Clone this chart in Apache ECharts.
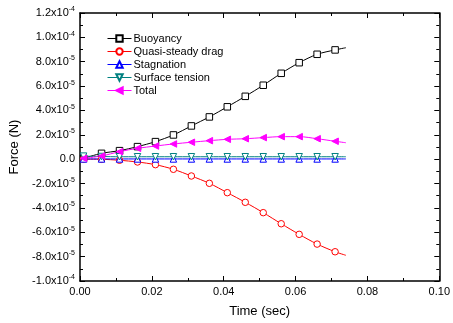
<!DOCTYPE html>
<html>
<head>
<meta charset="utf-8">
<script src="https://cdn.jsdelivr.net/npm/echarts@6/dist/echarts.min.js"></script>
<style>
  html, body { margin: 0; padding: 0; background: #fff; }
  #chart { width: 453px; height: 323px; }
</style>
</head>
<body>
<div id="chart"></div>
<script>
// time (sec); the last point only carries the curve end, no marker
const times = [0.001, 0.006, 0.011, 0.016, 0.021, 0.026, 0.031, 0.036, 0.041, 0.046, 0.051, 0.056, 0.061, 0.066, 0.071, 0.074];
// forces in units of 1e-5 N
const buoyancy = [0.07, 0.48, 0.70, 1.03, 1.44, 1.99, 2.73, 3.47, 4.30, 5.16, 6.07, 7.05, 7.92, 8.61, 8.97, 9.15];
const drag = [0.0, -0.01, -0.09, -0.23, -0.45, -0.83, -1.38, -1.98, -2.75, -3.54, -4.39, -5.30, -6.17, -6.97, -7.60, -7.89];
const stagnation = [0.02, 0.02, 0.02, 0.02, 0.02, 0.02, 0.02, 0.02, 0.02, 0.02, 0.02, 0.02, 0.02, 0.02, 0.02, 0.02];
const surfaceTension = [0.25, 0.22, 0.2, 0.2, 0.2, 0.2, 0.2, 0.2, 0.2, 0.2, 0.2, 0.2, 0.2, 0.2, 0.2, 0.2];
const total = [0.07, 0.26, 0.62, 0.89, 1.08, 1.25, 1.39, 1.52, 1.63, 1.68, 1.77, 1.85, 1.85, 1.68, 1.47, 1.35];

// y tick labels: value -> [mantissa, exponent]
const yTickLabels = {
  '-10': ['-1.0x10', '-4'], '-8': ['-8.0x10', '-5'], '-6': ['-6.0x10', '-5'],
  '-4': ['-4.0x10', '-5'], '-2': ['-2.0x10', '-5'], '0': ['0.0', ''],
  '2': ['2.0x10', '-5'], '4': ['4.0x10', '-5'], '6': ['6.0x10', '-5'],
  '8': ['8.0x10', '-5'], '10': ['1.0x10', '-4'], '12': ['1.2x10', '-4']
};
const xTickLabels = ['0.00', '0.02', '0.04', '0.06', '0.08', '0.10'];

const font = 'Liberation Sans, Arial, sans-serif';

function toData(vals) {
  return vals.map((v, i) => {
    if (i === vals.length - 1) return { value: [times[i], v], symbol: 'none' };
    return [times[i], v];
  });
}

function makeSeries(name, vals, color, symbol, rotate, filled) {
  return {
    name: name,
    type: 'line',
    data: toData(vals),
    smooth: 0.3,
    symbol: symbol,
    symbolSize: 6.5,
    symbolRotate: rotate,
    showAllSymbol: true,
    lineStyle: { color: color, width: 1 },
    itemStyle: { color: filled ? color : '#fff', borderColor: color, borderWidth: 1 },
    emphasis: { disabled: true }
  };
}

const tickStyle = { inside: true, length: 5, lineStyle: { color: '#000', width: 1 } };
const minorStyle = { show: true, splitNumber: 2, length: 3, lineStyle: { color: '#000', width: 1 } };

const chart = echarts.init(document.getElementById('chart'));
const option = {
  animation: false,
  grid: { left: 80, right: 11, top: 13, bottom: 42 },
  legend: {
    orient: 'vertical',
    left: 102,
    top: 28,
    itemWidth: 24,
    itemHeight: 8,
    itemGap: 2,
    lineStyle: { width: 1 },
    textStyle: { fontFamily: font, fontSize: 11, color: '#000', padding: [0, 0, 0, -3] },
    data: ['Buoyancy', 'Quasi-steady drag', 'Stagnation', 'Surface tension', 'Total']
  },
  xAxis: [
    {
      type: 'value', min: 0, max: 0.1, interval: 0.02,
      name: 'Time (sec)', nameLocation: 'middle', nameGap: 24,
      nameTextStyle: { fontFamily: font, fontSize: 13, color: '#000' },
      axisLine: { show: true, onZero: false, lineStyle: { color: '#000', width: 1.5 } },
      axisTick: tickStyle, minorTick: minorStyle,
      axisLabel: {
        fontFamily: font, fontSize: 11, color: '#000', margin: 5,
        formatter: (v) => xTickLabels[Math.round(v / 0.02)]
      },
      splitLine: { show: false }
    },
    {
      type: 'value', min: 0, max: 0.1, interval: 0.02, position: 'top',
      axisLine: { show: true, onZero: false, lineStyle: { color: '#000', width: 1.5 } },
      axisTick: tickStyle, minorTick: minorStyle,
      axisLabel: { show: false }, splitLine: { show: false }
    }
  ],
  yAxis: [
    {
      type: 'value', min: -10, max: 12, interval: 2,
      name: 'Force (N)', nameLocation: 'middle', nameGap: 52,
      nameTextStyle: { fontFamily: font, fontSize: 13, color: '#000' },
      axisLine: { show: true, onZero: false, lineStyle: { color: '#000', width: 1.5 } },
      axisTick: tickStyle, minorTick: minorStyle,
      axisLabel: {
        margin: 5,
        formatter: (v) => {
          const t = yTickLabels[String(Math.round(v))];
          if (!t) return '';
          return t[1] ? '{a|' + t[0] + '}{b|' + t[1] + '}' : '{a|' + t[0] + '}';
        },
        rich: {
          a: { fontFamily: font, fontSize: 11, color: '#000' },
          b: { fontFamily: font, fontSize: 7, color: '#000', padding: [0, 0, 7, 0] }
        }
      },
      splitLine: { show: false }
    },
    {
      type: 'value', min: -10, max: 12, interval: 2, position: 'right',
      axisLine: { show: true, onZero: false, lineStyle: { color: '#000', width: 1.5 } },
      axisTick: tickStyle, minorTick: minorStyle,
      axisLabel: { show: false }, splitLine: { show: false }
    }
  ],
  series: [
    makeSeries('Buoyancy', buoyancy, '#000000', 'rect', 0, false),
    makeSeries('Quasi-steady drag', drag, '#ff0000', 'circle', 0, false),
    makeSeries('Stagnation', stagnation, '#0000ff', 'triangle', 0, false),
    makeSeries('Surface tension', surfaceTension, '#008080', 'triangle', 180, false),
    makeSeries('Total', total, '#ff00ff', 'triangle', 90, true)
  ]
};
chart.setOption(option);
</script>
</body>
</html>
